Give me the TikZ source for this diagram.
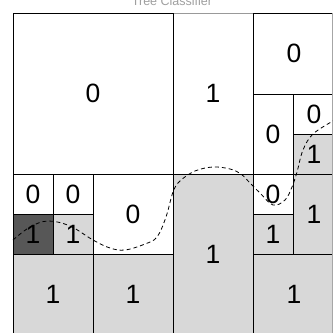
\documentclass[tikz,border=0pt]{standalone}
\usepackage{fontspec}
\setmainfont{Liberation Sans}
\begin{document}
\begin{tikzpicture}[x=1pt,y=-1pt,
  cell/.style={draw=black,line width=1pt,rectangle,inner sep=0pt,font=\fontsize{26.5}{26.5}\selectfont},
  wcell/.style={cell,fill=white},
  gcell/.style={cell,fill=lightc},
  dcell/.style={cell,fill=darkc},
  bound/.style={draw=black,line width=0.8pt,dash pattern=on 4pt off 3pt}]
\definecolor{lightc}{HTML}{D8D8D8}
\definecolor{darkc}{HTML}{575757}
\useasboundingbox (0,0) rectangle (333,333);
\fill[white] (0,0) rectangle (333,333);
\newcommand{\cellat}[7]{\node[#6,minimum width={(#3-#1)*1pt},minimum height={(#4-#2)*1pt}] (#7) at ({(#1+#3)/2},{(#2+#4)/2}) {#5};}
\cellat{13}{13}{173}{174}{0}{wcell}{c1}
\cellat{173}{13}{253}{174}{1}{wcell}{c2}
\cellat{253}{13}{335}{94}{0}{wcell}{c3}
\cellat{253}{94}{293}{174}{0}{wcell}{c4}
\cellat{293}{94}{335}{134}{0}{wcell}{c5}
\cellat{293}{134}{335}{174}{1}{gcell}{c6}
\cellat{13}{174}{53}{214}{0}{wcell}{c7}
\cellat{53}{174}{93}{214}{0}{wcell}{c8}
\cellat{13}{214}{53}{254}{1}{dcell}{c9}
\cellat{53}{214}{93}{254}{1}{gcell}{c10}
\cellat{93}{174}{173}{254}{0}{wcell}{c11}
\cellat{13}{254}{93}{335}{1}{gcell}{c12}
\cellat{93}{254}{173}{335}{1}{gcell}{c13}
\cellat{173}{174}{253}{335}{1}{gcell}{c14}
\cellat{253}{174}{293}{214}{0}{wcell}{c15}
\cellat{253}{214}{293}{254}{1}{gcell}{c16}
\cellat{293}{174}{335}{254}{1}{gcell}{c17}
\cellat{253}{254}{335}{335}{1}{gcell}{c18}
% axes frame
\draw[gray!80,line width=1pt] (173.5,13) -- (252.5,13);
\draw[gray!70,line width=1pt] (332,13) -- (332,335);
% decision boundary
\draw[bound] plot[smooth,tension=0.6] coordinates {(13,240) (30,227) (48,221) (70,226) (93,240) (110,248) (125,250) (145,244) (157,237) (166,217) (173,192) (180,181) (195,171) (213,167) (230,169) (241,174) (250,183) (260,193) (273,205) (285,200) (292,187) (297,172) (303,150) (313,134) (333,121)};
% title
\node[anchor=base,text=gray!75,font=\fontsize{12.5}{12.5}\selectfont] (title) at (172,5.5) {Tree Classifier};
\end{tikzpicture}
\end{document}
